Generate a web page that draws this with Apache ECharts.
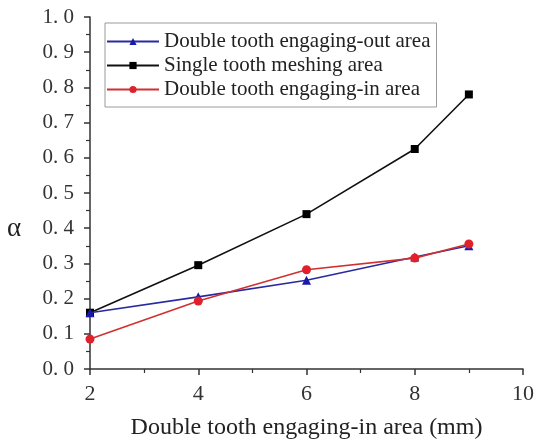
<!DOCTYPE html>
<html>
<head>
<meta charset="utf-8">
<script src="https://cdn.jsdelivr.net/npm/echarts@6/dist/echarts.min.js"></script>
<style>
  html, body { margin: 0; padding: 0; background: #fff; }
  #chart { width: 538px; height: 441px; }
</style>
</head>
<body>
<div id="chart"></div>
<script>
// Tooth width positions along the engaging-in area (mm)
const positions = [2, 4, 6, 8, 9];

// Load-sharing ratio α for each contact region
const engagingOut = [0.160, 0.205, 0.252, 0.318, 0.350];
const singleMesh  = [0.160, 0.295, 0.440, 0.625, 0.780];
const engagingIn  = [0.085, 0.193, 0.282, 0.315, 0.355];

const seriesNames = [
  'Double tooth engaging-out area',
  'Single tooth meshing area',
  'Double tooth engaging-in area'
];

const xTitle = 'Double tooth engaging-in area (mm)';
const yTitle = 'α';

const FONT = '"Liberation Serif", "Times New Roman", serif';

function pairs(vals) {
  return positions.map((x, i) => [x, vals[i]]);
}

const chart = echarts.init(document.getElementById('chart'), null, { renderer: 'canvas' });

chart.setOption({
  backgroundColor: '#ffffff',
  animation: false,
  grid: {
    left: 90, right: 15, top: 17, bottom: 72,
    containLabel: false,
    outerBoundsMode: 'none'
  },
  legend: {
    orient: 'vertical',
    left: 105,
    top: 23,
    itemWidth: 52,
    itemHeight: 9,
    itemGap: 3,
    padding: [8, 6, 7, 1],
    borderColor: '#9a9a9a',
    borderWidth: 1,
    backgroundColor: '#fff',
    textStyle: { fontFamily: FONT, fontSize: 21, color: '#222' },
    data: seriesNames
  },
  xAxis: {
    type: 'value',
    min: 2,
    max: 10,
    interval: 2,
    name: xTitle,
    nameLocation: 'middle',
    nameGap: 47,
    nameTextStyle: { fontFamily: FONT, fontSize: 24, color: '#222' },
    axisLine: { show: true, lineStyle: { color: '#333', width: 1.5 } },
    axisTick: { show: true, length: 6, lineStyle: { color: '#333', width: 1.5 } },
    minorTick: { show: true, splitNumber: 2, length: 4, lineStyle: { color: '#333', width: 1.2 } },
    axisLabel: { fontFamily: FONT, fontSize: 22, color: '#333', margin: 14 },
    splitLine: { show: false }
  },
  yAxis: {
    type: 'value',
    min: 0,
    max: 1,
    interval: 0.1,
    axisLine: { show: true, lineStyle: { color: '#333', width: 1.5 } },
    axisTick: { show: true, length: 6, lineStyle: { color: '#333', width: 1.5 } },
    minorTick: { show: true, splitNumber: 2, length: 4, lineStyle: { color: '#333', width: 1.2 } },
    axisLabel: {
      fontFamily: FONT, fontSize: 21, color: '#333', margin: 16,
      formatter: v => v.toFixed(1).replace('.', '. ')
    },
    splitLine: { show: false }
  },
  graphic: [{
    type: 'text',
    left: 7,
    top: 215,
    style: { text: yTitle, font: '27px ' + FONT, fill: '#222' }
  }],
  series: [
    {
      name: seriesNames[0],
      type: 'line',
      data: pairs(engagingOut),
      symbol: 'triangle',
      symbolSize: 9,
      itemStyle: { color: '#1a1aa8' },
      lineStyle: { color: '#2a2aa0', width: 1.6 },
      z: 3
    },
    {
      name: seriesNames[1],
      type: 'line',
      data: pairs(singleMesh),
      symbol: 'rect',
      symbolSize: 8,
      itemStyle: { color: '#000' },
      lineStyle: { color: '#111', width: 1.6 },
      z: 2
    },
    {
      name: seriesNames[2],
      type: 'line',
      data: pairs(engagingIn),
      symbol: 'circle',
      symbolSize: 9,
      itemStyle: { color: '#e0202a' },
      lineStyle: { color: '#d03030', width: 1.6 },
      z: 4
    }
  ]
});
</script>
</body>
</html>
